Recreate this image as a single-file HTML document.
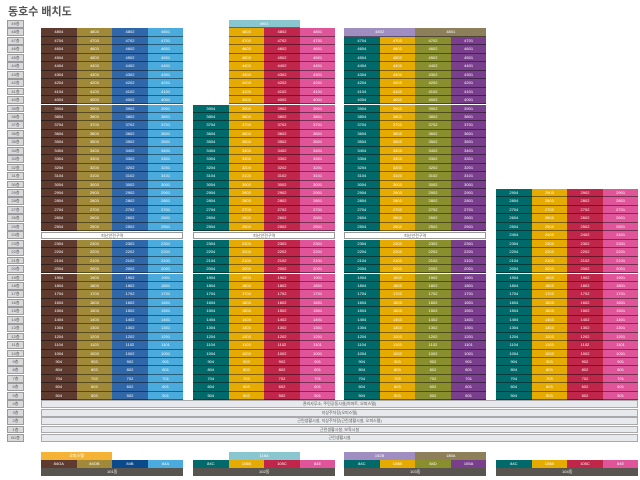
<!DOCTYPE html>
<html><head><meta charset="utf-8">
<style>
body{margin:0;background:#fff;width:640px;height:480px;overflow:hidden;font-family:"Liberation Sans","Noto Sans CJK KR",sans-serif;}
#root{position:relative;width:640px;height:480px;}
.a{position:absolute;box-sizing:border-box;color:#fff;font-size:4px;text-align:center;overflow:hidden;white-space:nowrap;}
.fl{background:#d9d9dc;border:1px solid #9a9a9a;color:#555;}
.u{border-bottom:1px solid rgba(0,0,0,0.45);}
.g{background:#e8e9ec;border:1px solid #a9a9ab;color:#555;}
h1{position:absolute;left:8px;top:3px;margin:0;font-size:11px;color:#555;font-weight:bold;}
</style></head><body>
<div id="root">
<h1>동호수 배치도</h1>
</div>
<script>
const floorLabels=[];for(let f=49;f>=1;f--)floorLabels.push(f+'층');floorLabels.push('B1층');
const buildingNames=['101동','102동','103동','104동'];
const buildingX=[41,193,344,496];
const colColors=[['#5e3a2f','#a08a3a','#3067a8','#4aabdc'],['#006a6a','#e5ab00','#c0254a','#e0549a'],['#006a6a','#e5ab00','#8a8f2e','#7a3f8c'],['#006a6a','#e5ab00','#c0254a','#e0549a']];
const colTopFloor=[[48,48,48,48],[39,48,48,48],[47,47,47,47],[29,29,29,29]];
const refugeFloor=[24,24,24,null];
const unitTypes=[['84OA','84OB','84B','84A'],['84C','105B','105C','84E'],['84C','105B','84D','105A'],['84C','105B','105C','84E']];
const typeColors=[['#5e3a2f','#a08a3a','#0a4a8a','#4aabdc'],colColors[1],colColors[2],colColors[3]];
const penthouse=[null,[{floor:49,c0:1,c1:3,label:'4901',color:'#8ac6d0'}],[{floor:48,c0:0,c1:2,label:'4802',color:'#a08ec0'},{floor:48,c0:2,c1:4,label:'4801',color:'#8c7f5a'}],null];
const legendHeaders=[[{c0:0,c1:2,label:'오피스텔',color:'#f5b335'}],[{c0:1,c1:3,label:'115A',color:'#8ac6d0'}],[{c0:0,c1:2,label:'152B',color:'#a08ec0'},{c0:2,c1:4,label:'185A',color:'#8c7f5a'}],[]];
const podiumLabels=['관리사무소, 주민공동시설(아파트, 오피스텔)','지상주차장(오피스텔)','근린생활시설, 지상주차장(근린생활시설, 오피스텔)','근린생활시설, 보육시설','근린생활시설'];
const root=document.getElementById('root');
const TOP=20,RH=8.45,CW=35.6;
function rowY(f){return f==='B1'?TOP+49*RH:TOP+(49-f)*RH;}
function box(x,y,w,h,cls,bg,txt,bordered){const d=document.createElement('div');d.className='a '+cls;d.style.left=x+'px';d.style.top=y+'px';d.style.width=w+'px';d.style.height=h+'px';d.style.lineHeight=(bordered?h-2:h)+'px';if(bg)d.style.background=bg;d.textContent=txt;root.appendChild(d);return d;}
floorLabels.forEach((t,i)=>{const d=box(7,TOP+i*RH,17,RH-0.6,'fl',null,t,true);

});
buildingNames.forEach((bn,b)=>{
 const x0=buildingX[b];
 for(let c=0;c<4;c++){for(let f=colTopFloor[b][c];f>=5;f--){
  if(f===refugeFloor[b])continue;
  const num=f+'0'+(4-c);
  const d=box(x0+c*CW,rowY(f),CW,RH,'u',colColors[b][c],num);
  
  }}
 if(refugeFloor[b]){const d=box(x0,rowY(refugeFloor[b])+0.5,CW*4,RH-1,'','#fff','피난안전구역',true);d.style.color='#555';d.style.border='1px solid #999';
  
  }
 (penthouse[b]||[]).forEach(p=>{const d=box(x0+p.c0*CW,rowY(p.floor),(p.c1-p.c0)*CW,RH,'u',p.color,p.label);
  
  });
 legendHeaders[b].forEach(p=>{const d=box(x0+p.c0*CW,452,(p.c1-p.c0)*CW,7.5,'',p.color,p.label);
  
  });
 unitTypes[b].forEach((t,c)=>{const d=box(x0+c*CW,459.5,CW,8,'',typeColors[b][c],t);
  
  });
 const d=box(x0,468,CW*4,8,'','#58544f',bn);
 
 
});
podiumLabels.forEach((t,i)=>{const d=box(41,TOP+(45+i)*RH,597,RH-0.6,'g',null,t,true);
 
 });
</script>
</body></html>
